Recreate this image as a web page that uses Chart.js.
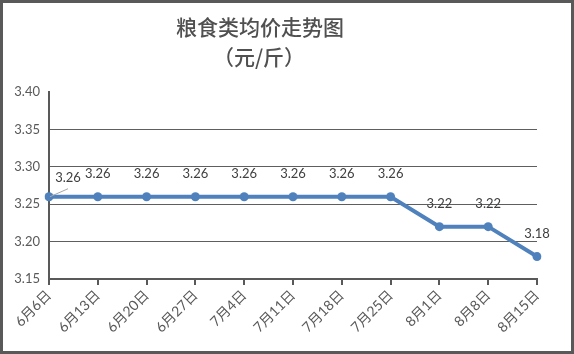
<!DOCTYPE html>
<html>
<head>
<meta charset="utf-8">
<script src="https://cdn.jsdelivr.net/npm/chart.js@4/dist/chart.umd.min.js"></script>
<style>
    html, body { margin: 0; padding: 0; background: #fff; }
    #box { width: 574px; height: 354px; }
</style>
</head>
<body>
<div id="box"><canvas id="priceChart" width="574" height="354"></canvas></div>
<script>
/* =========================
   DATA
========================= */

const dates = ["6月6日", "6月13日", "6月20日", "6月27日", "7月4日", "7月11日",
               "7月18日", "7月25日", "8月1日", "8月8日", "8月15日"];
const prices = [3.26, 3.26, 3.26, 3.26, 3.26, 3.26, 3.26, 3.26, 3.22, 3.22, 3.18];
const yTicks = [3.15, 3.20, 3.25, 3.30, 3.35, 3.40];
const titleLines = ["粮食类均价走势图", "（元/斤）"];

const textGray = "#595959";
const numFont = "Lato, 'Noto Sans CJK SC', sans-serif";

/* =========================
   PLUGINS
========================= */

const frame = {
    id: "frame",
    beforeDraw(chart) {
        const c = chart.ctx;
        c.save();
        c.fillStyle = "#fff";
        c.fillRect(0, 0, chart.width, chart.height);
        c.restore();
    },
    afterDraw(chart) {
        const c = chart.ctx;
        c.save();
        // title
        c.fillStyle = "#505050";
        c.textAlign = "center";
        c.textBaseline = "middle";
        c.font = "500 21px 'Noto Sans CJK SC', sans-serif";
        c.fillText(titleLines[0], 260, 27);
        c.fillText(titleLines[1], 259, 57);
        // outer border
        c.strokeStyle = "#595959";
        c.lineWidth = 3;
        c.strokeRect(1.5, 1.5, chart.width - 3, chart.height - 3);
        c.restore();
    }
};

const valueLabels = {
    id: "valueLabels",
    afterDatasetsDraw(chart) {
        const c = chart.ctx;
        const meta = chart.getDatasetMeta(0);
        c.save();
        c.font = "13px " + numFont;
        c.fillStyle = "#404040";
        c.textAlign = "center";
        c.textBaseline = "middle";
        meta.data.forEach((pt, i) => {
            const txt = prices[i].toFixed(2);
            if (i === 0) {
                c.strokeStyle = "#a6a6a6";
                c.lineWidth = 1;
                c.beginPath();
                c.moveTo(pt.x + 1, pt.y);
                c.lineTo(pt.x + 19, pt.y - 8);
                c.stroke();
                c.fillText(txt, pt.x + 19, pt.y - 19);
            } else {
                c.fillText(txt, pt.x, pt.y - 23);
            }
        });
        c.restore();
    }
};

/* =========================
   CHART
========================= */

new Chart(document.getElementById("priceChart"), {
    type: "line",
    data: {
        labels: dates,
        datasets: [{
            data: prices,
            borderColor: "#4F81BD",
            backgroundColor: "#4F81BD",
            borderWidth: 4,
            pointRadius: 4.5,
            pointBackgroundColor: "#4F81BD",
            pointBorderWidth: 0,
            tension: 0
        }]
    },
    options: {
        responsive: false,
        animation: false,
        layout: { padding: { top: 92, right: 37, left: 0, bottom: 0 } },
        plugins: {
            legend: { display: false },
            tooltip: { enabled: false }
        },
        scales: {
            x: {
                offset: false,
                border: { display: true, color: "#595959", width: 2 },
                grid: {
                    drawOnChartArea: false,
                    drawTicks: true,
                    tickLength: 6,
                    color: "#595959",
                    lineWidth: 2
                },
                ticks: {
                    maxRotation: 45,
                    minRotation: 45,
                    autoSkip: false,
                    padding: 2,
                    color: textGray,
                    font: { family: numFont, size: 14 }
                },
                afterFit(scale) { scale.height = 75; }
            },
            y: {
                min: yTicks[0],
                max: yTicks[yTicks.length - 1],
                afterBuildTicks(scale) {
                    scale.ticks = yTicks.map(v => ({ value: v }));
                },
                border: { display: true, color: "#595959", width: 2 },
                grid: {
                    drawTicks: false,
                    color: ctx => ctx.index === yTicks.length - 1 ? "rgba(0,0,0,0)" : "#5e5e5e",
                    lineWidth: 1
                },
                ticks: {
                    padding: 9,
                    color: textGray,
                    font: { family: numFont, size: 13 },
                    callback: v => Number(v).toFixed(2)
                },
                afterFit(scale) { scale.width = 49; }
            }
        }
    },
    plugins: [frame, valueLabels]
});
</script>
</body>
</html>
